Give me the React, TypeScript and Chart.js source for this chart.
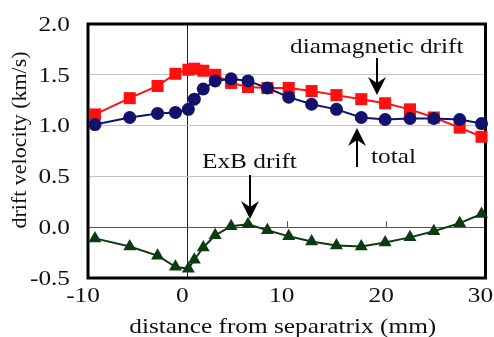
import React, { useEffect, useRef } from "react";
import { Chart, registerables } from "chart.js";

Chart.register(...registerables);

// distance from separatrix (mm)
const positions = [-9.3, -5.8, -3.0, -1.2, 0.1, 0.7, 1.6, 2.8, 4.4, 6.1, 8.05, 10.2, 12.5, 15.0, 17.5, 19.9, 22.4, 24.8, 27.4, 29.6];
const totalDrift = [1.01, 1.08, 1.12, 1.13, 1.16, 1.26, 1.36, 1.44, 1.46, 1.44, 1.37, 1.28, 1.21, 1.16, 1.08, 1.06, 1.07, 1.07, 1.06, 1.02];
const diamagneticDrift = [1.11, 1.27, 1.39, 1.51, 1.55, 1.56, 1.54, 1.50, 1.42, 1.38, 1.37, 1.37, 1.34, 1.30, 1.26, 1.22, 1.16, 1.08, 0.98, 0.89];
const exbDrift = [-0.11, -0.19, -0.28, -0.39, -0.41, -0.32, -0.20, -0.08, 0.01, 0.03, -0.03, -0.09, -0.14, -0.18, -0.19, -0.15, -0.10, -0.04, 0.04, 0.13];

const xTicks = [-10, 0, 10, 20, 30];
const yTicks = [-0.5, 0.0, 0.5, 1.0, 1.5, 2.0];
const minorXMarks = [10, 20];

const xTitle = "distance from separatrix (mm)";
const yTitle = "drift velocity (km/s)";

const FONT = "\"Liberation Serif\", \"Times New Roman\", Times, serif";
const STRETCH = 1.15;

function pts(vals: number[]) {
  return vals.map((v, i) => ({ x: positions[i], y: v }));
}

function stretchedText(ctx: CanvasRenderingContext2D, text: string, x: number, y: number, align: CanvasTextAlign) {
  ctx.save();
  ctx.translate(x, y);
  ctx.scale(STRETCH, 1);
  ctx.textAlign = align;
  ctx.textBaseline = "middle";
  ctx.fillText(text, 0, 0);
  ctx.restore();
}

function arrow(ctx: CanvasRenderingContext2D, x: number, fromY: number, tipY: number) {
  const dir = tipY > fromY ? 1 : -1;
  ctx.save();
  ctx.strokeStyle = "#000";
  ctx.fillStyle = "#000";
  ctx.lineWidth = 2;
  ctx.beginPath();
  ctx.moveTo(x, fromY);
  ctx.lineTo(x, tipY - dir * 10);
  ctx.stroke();
  ctx.beginPath();
  ctx.moveTo(x, tipY);
  ctx.lineTo(x - 9, tipY - dir * 18);
  ctx.lineTo(x, tipY - dir * 12);
  ctx.lineTo(x + 9, tipY - dir * 18);
  ctx.closePath();
  ctx.fill();
  ctx.restore();
}

const framePlugin = {
  id: "frame",
  beforeDatasetsDraw(chart: any) {
    const { ctx, chartArea: a, scales } = chart;
    const y0 = scales.y.getPixelForValue(0);
    ctx.save();
    ctx.strokeStyle = "#555";
    ctx.lineWidth = 1;
    minorXMarks.forEach((v) => {
      const px = Math.round(scales.x.getPixelForValue(v)) + 0.5;
      ctx.beginPath();
      ctx.moveTo(px, y0 - 6);
      ctx.lineTo(px, y0);
      ctx.stroke();
    });
    ctx.strokeStyle = "#000";
    ctx.lineWidth = 3;
    ctx.strokeRect(a.left, a.top, a.right - a.left, a.bottom - a.top);
    ctx.restore();
  },
  afterDraw(chart: any) {
    const { ctx, chartArea: a, scales } = chart;
    ctx.save();
    ctx.fillStyle = "#111";
    ctx.font = `22px ${FONT}`;
    yTicks.forEach((v) => {
      const py = scales.y.getPixelForValue(v) + 1;
      stretchedText(ctx, v.toFixed(1), a.left - 18, py, "right");
    });
    xTicks.forEach((v) => {
      const px = scales.x.getPixelForValue(v) - 5;
      stretchedText(ctx, String(v), px, a.bottom + 18, "center");
    });
    stretchedText(ctx, xTitle, (a.left + a.right) / 2 - 4, a.bottom + 49, "center");
    ctx.save();
    ctx.translate(20, (a.top + a.bottom) / 2 - 11);
    ctx.rotate(-Math.PI / 2);
    ctx.textAlign = "center";
    ctx.textBaseline = "middle";
    ctx.fillText(yTitle, 0, 0);
    ctx.restore();

    stretchedText(ctx, "diamagnetic drift", 290, 47, "left");
    arrow(ctx, 377, 58, 95);
    stretchedText(ctx, "total", 371, 157, "left");
    arrow(ctx, 357, 167, 128);
    stretchedText(ctx, "ExB drift", 202, 162, "left");
    arrow(ctx, 250, 175, 219);
    ctx.restore();
  },
};

export default function App() {
  const ref = useRef<HTMLCanvasElement>(null);
  useEffect(() => {
    if (!ref.current) return;
    const chart = new Chart(ref.current, {
      type: "line",
      data: {
        datasets: [
          {
            label: "total",
            data: pts(totalDrift),
            borderColor: "#12126e",
            backgroundColor: "#12126e",
            borderWidth: 2,
            pointStyle: "circle",
            pointRadius: 6.5,
            pointBorderWidth: 0,
            clip: false,
          },
          {
            label: "diamagnetic drift",
            data: pts(diamagneticDrift),
            borderColor: "#ff1010",
            backgroundColor: "#ff1010",
            borderWidth: 2,
            pointStyle: "rect",
            pointRadius: 8.5,
            pointBorderWidth: 0,
            clip: false,
          },
          {
            label: "ExB drift",
            data: pts(exbDrift),
            borderColor: "#0e3a12",
            backgroundColor: "#0e3a12",
            borderWidth: 2,
            pointStyle: "triangle",
            pointRadius: 7.5,
            pointBorderWidth: 0,
            clip: false,
          },
        ],
      } as any,
      options: {
        animation: false,
        responsive: false,
        devicePixelRatio: 1,
        layout: { padding: { left: 88, top: 24, right: 7.5, bottom: 59 } },
        plugins: { legend: { display: false }, tooltip: { enabled: false } },
        scales: {
          x: {
            type: "linear",
            min: -10,
            max: 30,
            afterFit: (s: any) => {
              s.height = 0;
            },
            ticks: { display: false, stepSize: 10 },
            border: { display: false },
            grid: {
              drawTicks: false,
              color: (c: any) => (c.tick && c.tick.value === 0 ? "#222" : "rgba(0,0,0,0)"),
              lineWidth: 1,
            },
          },
          y: {
            type: "linear",
            min: -0.5,
            max: 2.0,
            afterFit: (s: any) => {
              s.width = 0;
            },
            ticks: { display: false, stepSize: 0.5 },
            border: { display: false },
            grid: {
              drawTicks: false,
              color: (c: any) => (c.tick && c.tick.value === 0 ? "#555" : "#c4c4c4"),
              lineWidth: 1,
            },
          },
        },
      } as any,
      plugins: [framePlugin],
    });
    let alive = true;
    if ((document as any).fonts && (document as any).fonts.load) {
      (document as any).fonts
        .load('22px "Liberation Serif"')
        .then(() => {
          if (alive) chart.update();
        })
        .catch(() => {});
    }
    return () => {
      alive = false;
      chart.destroy();
    };
  }, []);
  return (
    <div style={{ position: "absolute", left: 0, top: 0, width: 494, height: 337, background: "#fff" }}>
      <canvas ref={ref} width={494} height={337} />
    </div>
  );
}
